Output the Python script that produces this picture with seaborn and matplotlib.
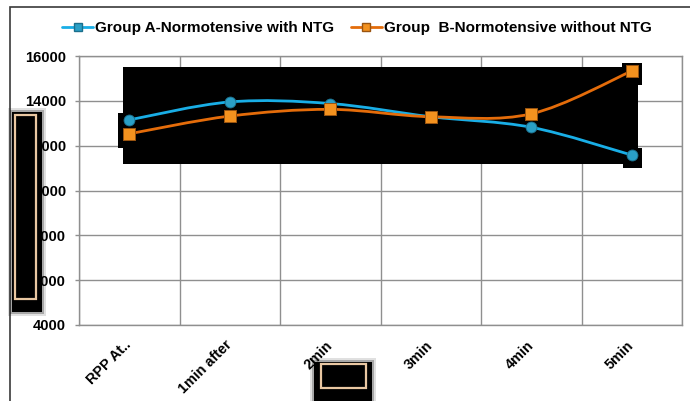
import numpy as np
import matplotlib
matplotlib.use("Agg")
import matplotlib.pyplot as plt
from matplotlib.path import Path
from matplotlib.patches import PathPatch, Rectangle
from matplotlib.lines import Line2D
import seaborn as sns
import pandas as pd

# Rate pressure product over time
categories = ["RPP At..", "1min after", "2min", "3min", "4min", "5min"]
group_a = [13150, 13950, 13880, 13290, 12820, 11580]
group_b = [12530, 13320, 13620, 13290, 13420, 15330]
label_a = "Group A-Normotensive with NTG"
label_b = "Group  B-Normotensive without NTG"
y_ticks = [4000, 6000, 8000, 10000, 12000, 14000, 16000]
x_title = "Time"

BLUE_LINE = "#19aee6"
BLUE_FILL = "#2a9fc6"
BLUE_EDGE = "#1b6f8c"
ORANGE_LINE = "#e46c0a"
ORANGE_FILL = "#f3921f"
ORANGE_EDGE = "#9a5410"
GRID = "#8f8f8f"
TAN = "#e9c7a2"

sns.set_theme(style="white")
plt.rcParams["font.family"] = ["Liberation Sans", "DejaVu Sans"]
plt.rcParams["font.weight"] = "bold"
plt.rcParams["text.color"] = "black"
plt.rcParams["xtick.color"] = "black"
plt.rcParams["ytick.color"] = "black"

W, H = 690, 401
fig = plt.figure(figsize=(W / 100, H / 100), dpi=100)
fig.patch.set_facecolor("white")


def px_box(x0, y0, x1, y1):
    """Pixel box (top-left origin) -> figure-fraction (x, y, w, h)."""
    return x0 / W, 1 - y1 / H, (x1 - x0) / W, (y1 - y0) / H


ax = fig.add_axes(px_box(79, 56, 682, 325))

df = pd.DataFrame({
    "pos": list(range(len(categories))) * 2,
    "value": group_a + group_b,
    "group": [label_a] * len(categories) + [label_b] * len(categories),
})


def smooth_path(xs, ys):
    pts = np.column_stack([xs, ys]).astype(float)
    n = len(pts)
    verts = [pts[0]]
    codes = [Path.MOVETO]
    for i in range(n - 1):
        p0 = pts[i - 1] if i > 0 else pts[i]
        p1 = pts[i]
        p2 = pts[i + 1]
        p3 = pts[i + 2] if i + 2 < n else pts[i + 1]
        verts += [p1 + (p2 - p0) / 6, p2 - (p3 - p1) / 6, p2]
        codes += [Path.CURVE4] * 3
    return Path(verts, codes)


# dark panel behind the series
for box in [(123, 67, 638, 164), (118, 113, 124, 148),
            (622, 63, 642, 85), (623, 148, 642, 168)]:
    x, y, w, h = px_box(*box)
    ax.add_patch(Rectangle((x, y), w, h, transform=fig.transFigure,
                           facecolor="black", edgecolor="none",
                           zorder=1.5, clip_on=False))

for label, line_c in [(label_a, BLUE_LINE), (label_b, ORANGE_LINE)]:
    sub = df[df["group"] == label]
    ax.add_patch(PathPatch(smooth_path(sub["pos"], sub["value"]),
                           facecolor="none", edgecolor=line_c, lw=2.0,
                           zorder=3, capstyle="round"))

sns.scatterplot(data=df[df["group"] == label_a], x="pos", y="value",
                marker="o", s=62, color=BLUE_FILL, edgecolor=BLUE_EDGE,
                linewidth=0.6, zorder=4, ax=ax, legend=False)
sns.scatterplot(data=df[df["group"] == label_b], x="pos", y="value",
                marker="s", s=82, color=ORANGE_FILL, edgecolor=ORANGE_EDGE,
                linewidth=0.7, zorder=4, ax=ax, legend=False)

ax.set_xlim(-0.5, len(categories) - 0.5)
ax.set_ylim(y_ticks[0], y_ticks[-1])
ax.set_yticks(y_ticks)
ax.set_yticklabels([str(v) for v in y_ticks], fontsize=10.6,
                   fontweight="bold")
ax.set_xticks(range(len(categories)))
ax.set_xticklabels(categories, rotation=45, ha="right", va="center",
                   rotation_mode="anchor", fontsize=10.4, fontweight="bold")
ax.set_xticks(np.arange(-0.5, len(categories)), minor=True)
ax.tick_params(axis="x", which="major", length=0, pad=13)
ax.tick_params(axis="x", which="minor", length=0)
ax.tick_params(axis="y", length=3, width=1, color=GRID, labelcolor="black",
               pad=6.5, left=True)
ax.set_xlabel(x_title, fontsize=10, fontweight="bold")
ax.xaxis.set_label_coords(0.44, -0.2)
ax.set_ylabel("")

ax.grid(False)
ax.grid(axis="y", which="major", color=GRID, lw=1)
ax.grid(axis="x", which="minor", color=GRID, lw=1)
for s in ax.spines.values():
    s.set_color(GRID)
    s.set_linewidth(1)

# outer chart frame
x, y, w, h = px_box(10, 7, 720, 430)
fig.add_artist(Rectangle((x, y), w, h, transform=fig.transFigure,
                         facecolor="none", edgecolor="#3a3a3a", lw=1.2,
                         zorder=0.1))


# dark overlays with a soft halo and tan inner outline
def overlay(outer, inner):
    for grow, alpha in [(4, 0.12), (2, 0.25)]:
        x0, y0, x1, y1 = outer
        x, y, w, h = px_box(x0 - grow, y0 - grow, x1 + grow, y1 + grow)
        fig.add_artist(Rectangle((x, y), w, h, transform=fig.transFigure,
                                 facecolor="black", edgecolor="none",
                                 alpha=alpha, zorder=10))
    x, y, w, h = px_box(*outer)
    fig.add_artist(Rectangle((x, y), w, h, transform=fig.transFigure,
                             facecolor="black", edgecolor="none", zorder=11))
    x, y, w, h = px_box(*inner)
    fig.add_artist(Rectangle((x, y), w, h, transform=fig.transFigure,
                             facecolor="none", edgecolor=TAN, lw=1.6,
                             zorder=12))


overlay((12, 112, 42, 312), (14.5, 115, 35.5, 299))
overlay((314, 362, 372, 405), (321, 363.5, 366, 388))

handles = [
    Line2D([], [], color=BLUE_LINE, lw=2.0, marker="s", markersize=6,
           markerfacecolor=BLUE_FILL, markeredgecolor=BLUE_EDGE),
    Line2D([], [], color=ORANGE_LINE, lw=2.0, marker="s", markersize=6,
           markerfacecolor=ORANGE_FILL, markeredgecolor=ORANGE_EDGE),
]
fig.legend(handles, [label_a, label_b], loc="center",
           bbox_to_anchor=(357 / W, 1 - 28 / H), ncol=2, frameon=False,
           prop={"size": 11, "weight": "bold"}, handlelength=2.0,
           handletextpad=0.15, columnspacing=1.1)

fig.savefig("out.png", dpi=100, facecolor="white")
